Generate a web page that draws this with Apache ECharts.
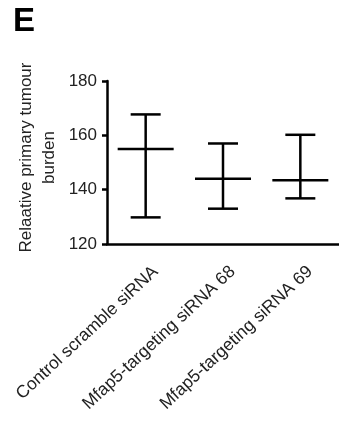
<!DOCTYPE html>
<html>
<head>
<meta charset="utf-8">
<script src="https://cdn.jsdelivr.net/npm/echarts@6/dist/echarts.min.js"></script>
<style>html,body{margin:0;padding:0;background:#fff}#c{width:339px;height:422px}</style>
</head>
<body>
<div id="c"></div>
<script>
var categories = ['Control scramble siRNA', 'Mfap5-targeting siRNA 68', 'Mfap5-targeting siRNA 69'];
var means = [155, 144, 143.5];
var upper = [167.7, 157, 160.2];
var lower = [129.8, 133, 136.8];
var yTicks = [120, 140, 160, 180];

var chart = echarts.init(document.getElementById('c'), null, {renderer: 'canvas'});
var FONT = 'Liberation Sans, Arial, sans-serif';
var data = categories.map(function (c, i) { return [i, means[i], upper[i], lower[i]]; });

chart.setOption({
  animation: false,
  backgroundColor: '#fff',
  title: {
    text: 'E', left: 8, top: 0,
    textStyle: {fontSize: 33, fontWeight: 'bold', color: '#000', fontFamily: FONT}
  },
  grid: {left: 107, top: 81, height: 163, right: -8},
  xAxis: {
    type: 'category',
    data: categories,
    boundaryGap: true,
    axisLine: {lineStyle: {color: '#000', width: 2.5}},
    axisTick: {alignWithLabel: true, length: 6, lineStyle: {color: '#000', width: 2.5}},
    axisLabel: {rotate: 43, interval: 0, margin: 22, verticalAlign: 'top', align: 'right',
      padding: [0, -5, 0, 0],
      fontSize: 17.5, color: '#222', fontFamily: FONT}
  },
  yAxis: {
    type: 'value',
    min: yTicks[0], max: yTicks[yTicks.length - 1], interval: 20,
    name: 'Relaative primary tumour\nburden',
    nameLocation: 'middle', nameRotate: 90, nameGap: 46, nameMoveOverlap: false,
    nameTextStyle: {fontSize: 17, color: '#222', fontFamily: FONT, lineHeight: 23, padding: [0, 0, 0, 10]},
    splitLine: {show: false},
    axisLine: {show: true, lineStyle: {color: '#000', width: 2.5}},
    axisTick: {show: true, length: 5, lineStyle: {color: '#000', width: 2.5}},
    axisLabel: {fontSize: 17, color: '#222', margin: 10, fontFamily: FONT}
  },
  series: [{
    type: 'custom',
    data: data,
    renderItem: function (params, api) {
      var x = api.value(0);
      var m = api.coord([x, api.value(1)]);
      var hi = api.coord([x, api.value(2)]);
      var lo = api.coord([x, api.value(3)]);
      var mw = 28, cw = 15;
      var st = {stroke: '#000', lineWidth: 2.5};
      return {
        type: 'group',
        children: [
          {type: 'line', shape: {x1: hi[0], y1: hi[1], x2: lo[0], y2: lo[1]}, style: st},
          {type: 'line', shape: {x1: m[0] - mw, y1: m[1], x2: m[0] + mw, y2: m[1]}, style: st},
          {type: 'line', shape: {x1: hi[0] - cw, y1: hi[1], x2: hi[0] + cw, y2: hi[1]}, style: st},
          {type: 'line', shape: {x1: lo[0] - cw, y1: lo[1], x2: lo[0] + cw, y2: lo[1]}, style: st}
        ]
      };
    }
  }]
});
</script>
</body>
</html>
